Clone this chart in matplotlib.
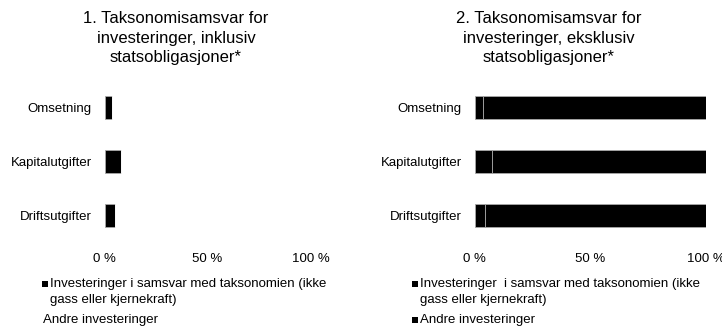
import matplotlib.pyplot as plt
from matplotlib.patches import Rectangle
import numpy as np

plt.rcParams['font.family'] = ['Liberation Sans', 'DejaVu Sans']

categories = ["Omsetning", "Kapitalutgifter", "Driftsutgifter"]
# share of investments aligned with the taxonomy (%)
aligned_incl = [3.4, 7.8, 4.9]
aligned_excl = [3.5, 7.7, 4.7]
# everything else
other_incl = [100 - v for v in aligned_incl]
other_excl = [100 - v for v in aligned_excl]

ticks = [0, 50, 100]
tick_labels = ["0 %", "50 %", "100 %"]

titles = ["1. Taksonomisamsvar for\ninvesteringer, inklusiv\nstatsobligasjoner*",
          "2. Taksonomisamsvar for\ninvesteringer, eksklusiv\nstatsobligasjoner*"]
legend_aligned = ["Investeringer i samsvar med taksonomien (ikke\ngass eller kjernekraft)",
                  "Investeringer  i samsvar med taksonomien (ikke\ngass eller kjernekraft)"]
legend_other = "Andre investeringer"

W, H = 722, 327
fig = plt.figure(figsize=(W / 100, H / 100), dpi=100)


def px(x, y):
    return x / W, 1 - y / H


def panel(left, right, aligned, other, other_color, other_edge):
    ax = fig.add_axes([left / W, 1 - 243 / H, (right - left) / W, 163 / H])
    y = np.arange(len(categories))
    ax.barh(y, aligned, height=0.42, color="black", edgecolor="#a8a8a8", linewidth=0.6)
    ax.barh(y, other, left=aligned, height=0.42, color=other_color,
            edgecolor=other_edge, linewidth=0.6)
    ax.set_xlim(0, 100)
    ax.set_ylim(2.5, -0.5)
    ax.set_yticks(y)
    ax.set_yticklabels(categories, fontsize=9.5)
    ax.set_xticks(ticks)
    ax.set_xticklabels(tick_labels, fontsize=9.5)
    ax.tick_params(axis="both", length=0)
    ax.tick_params(axis="y", pad=9)
    ax.tick_params(axis="x", pad=7)
    for s in ax.spines.values():
        s.set_visible(False)
    return ax


panel(104.5, 310.5, aligned_incl, other_incl, "white", "white")
panel(474.5, 705.5, aligned_excl, other_excl, "black", "#a8a8a8")

# titles
for cx, t in zip([176, 549], titles):
    fig.text(*px(cx, 38), t, ha="center", va="center", fontsize=12, linespacing=1.37)

# legend, left panel
fig.patches.append(Rectangle(px(42, 287), 6 / W, 6 / H, transform=fig.transFigure,
                             facecolor="black", edgecolor="none"))
fig.text(*px(50, 292), legend_aligned[0], ha="left", va="center", fontsize=9.5,
         linespacing=1.35)
fig.text(*px(43, 320), legend_other, ha="left", va="center", fontsize=9.5)

# legend, right panel
fig.patches.append(Rectangle(px(412, 287), 6 / W, 6 / H, transform=fig.transFigure,
                             facecolor="black", edgecolor="none"))
fig.text(*px(420, 292), legend_aligned[1], ha="left", va="center", fontsize=9.5,
         linespacing=1.35)
fig.patches.append(Rectangle(px(412, 323), 6 / W, 6 / H, transform=fig.transFigure,
                             facecolor="black", edgecolor="none"))
fig.text(*px(420, 320), legend_other, ha="left", va="center", fontsize=9.5)

fig.savefig("out.png", dpi=100)
